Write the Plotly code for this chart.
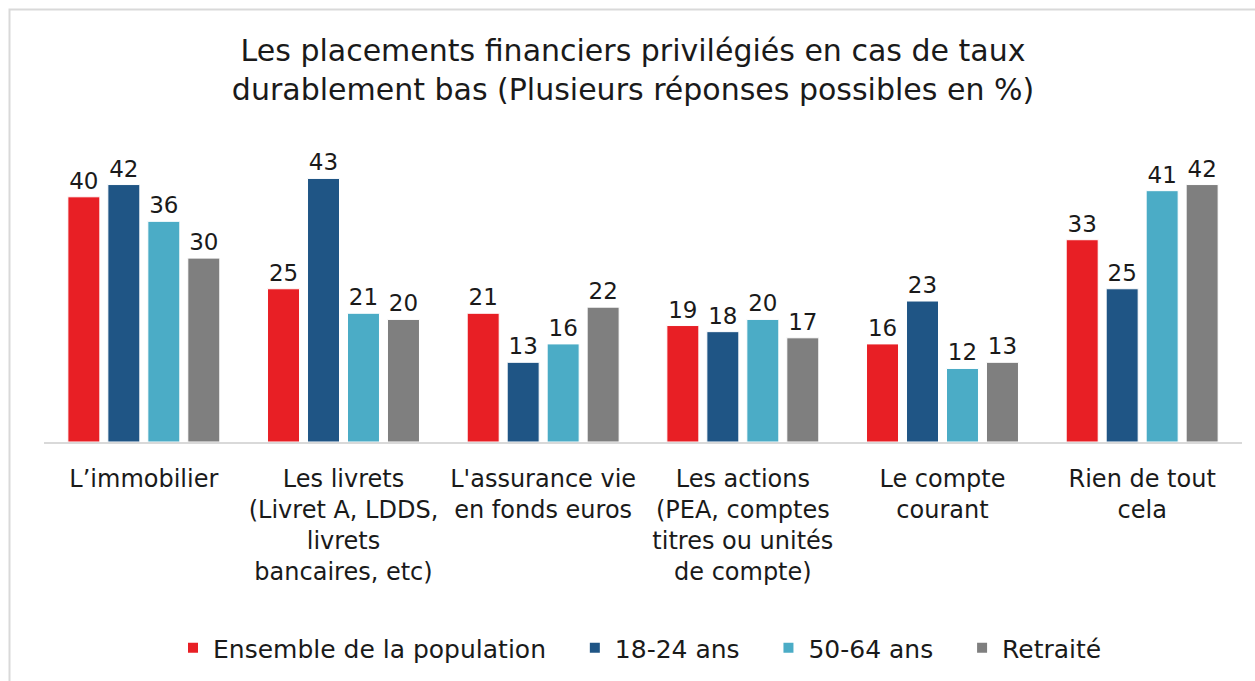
import plotly.graph_objects as go

categories = [
    "L’immobilier",
    "Les livrets<br>(Livret A, LDDS,<br>livrets<br>bancaires, etc)",
    "L'assurance vie<br>en fonds euros",
    "Les actions<br>(PEA, comptes<br>titres ou unités<br>de compte)",
    "Le compte<br>courant",
    "Rien de tout<br>cela",
]
series_names = ["Ensemble de la population", "18-24 ans", "50-64 ans", "Retraité"]
ensemble = [40, 25, 21, 19, 16, 33]
jeunes = [42, 43, 13, 18, 23, 25]
seniors = [36, 21, 16, 20, 12, 41]
retraites = [30, 20, 22, 17, 13, 42]
colors = ["#E81F25", "#1F5585", "#4BACC6", "#7F7F7F"]

FONT = "DejaVu Sans"
PAD = "\u00a0\u00a0\u00a0"
fig = go.Figure()
for i, (name, vals, col) in enumerate(zip(series_names, [ensemble, jeunes, seniors, retraites], colors)):
    fig.add_trace(go.Bar(
        x=categories, y=vals, name=name + (PAD if i < 3 else ""),
        marker=dict(color=col, line=dict(color="white", width=1)),
        text=[str(v) for v in vals], textposition="outside",
        textfont=dict(size=23, color="#1a1a1a", family=FONT),
        cliponaxis=False,
    ))

W, H = 1255, 681
ml, mr, mt, mb = 44, 13, 140, 238
ph = H - mt - mb
pw = W - ml - mr

fig.update_layout(
    width=W, height=H,
    margin=dict(l=ml, r=mr, t=mt, b=mb),
    barmode="group", bargap=0.199, bargroupgap=0.2,
    paper_bgcolor="white", plot_bgcolor="white",
    font=dict(family=FONT, color="#1a1a1a"),
    title=dict(
        text="Les placements financiers privilégiés en cas de taux<br>durablement bas (Plusieurs réponses possibles en %)",
        x=633 / W, xanchor="center", xref="container",
        y=1 - 61 / H, yanchor="middle", yref="container",
        font=dict(size=30, family=FONT, color="#1a1a1a"),
    ),
    xaxis=dict(
        showline=True, linecolor="#d9d9d9", linewidth=2,
        ticks="", tickfont=dict(size=24, family=FONT, color="#1a1a1a"),
        tickangle=0, showgrid=False, ticklabelstandoff=14,
    ),
    yaxis=dict(range=[0, ph / 6.15], visible=False, showgrid=False),
    legend=dict(
        orientation="h", x=(640 - ml) / pw, xanchor="center",
        y=(443 - 648) / ph, yanchor="middle",
        font=dict(size=25, family=FONT, color="#1a1a1a"),
        itemsizing="constant",
    ),
    shapes=[dict(
        type="rect", xref="paper", yref="paper",
        x0=(9.5 - ml) / pw, x1=(W + 20 - ml) / pw,
        y0=(443 - H - 20) / ph, y1=(443 - 9) / ph,
        line=dict(color="#d9d9d9", width=2), layer="below",
    )],
)

fig.write_html("out.html", config={"displayModeBar": False},
               post_script="document.body.style.margin='0';")
